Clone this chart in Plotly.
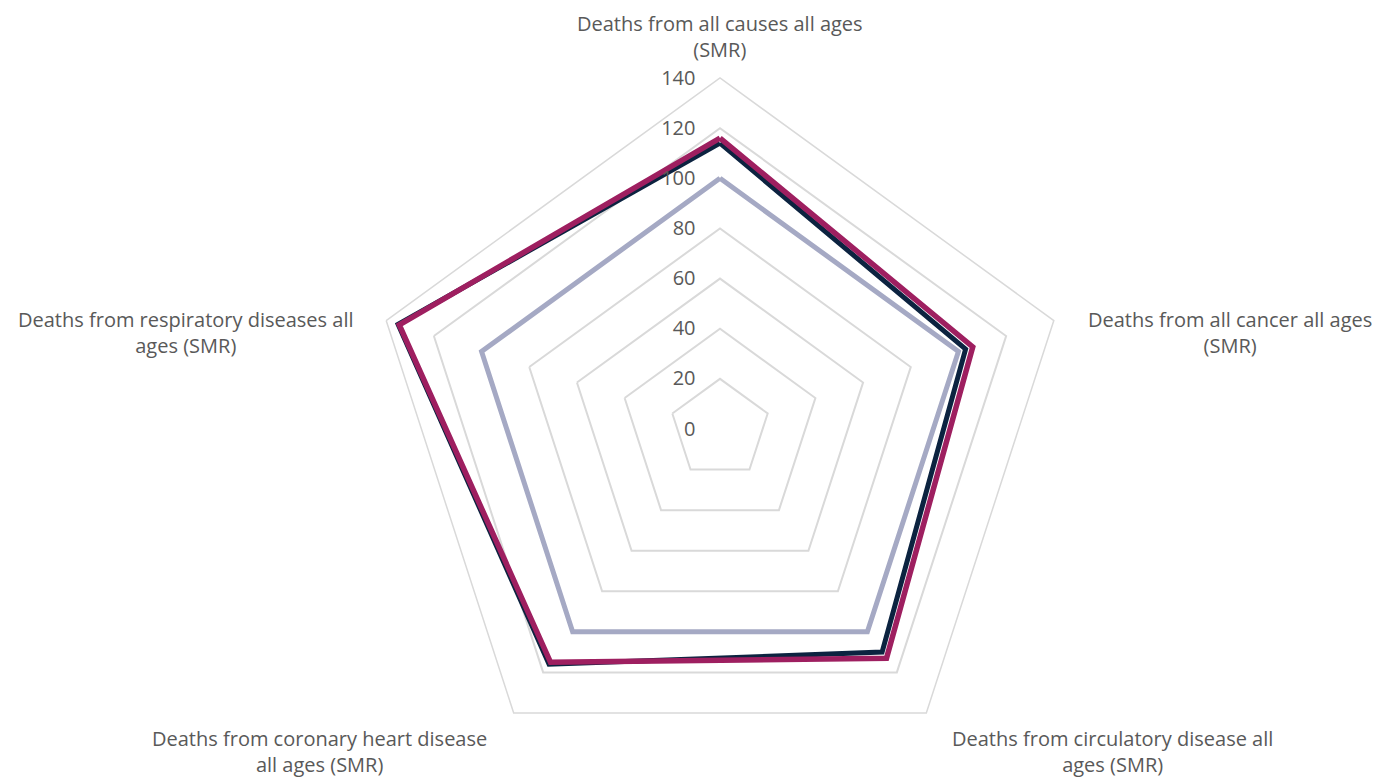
import plotly.graph_objects as go

categories = [
    "Deaths from all causes all ages (SMR)",
    "Deaths from all cancer all ages (SMR)",
    "Deaths from circulatory disease all ages (SMR)",
    "Deaths from coronary heart disease all ages (SMR)",
    "Deaths from respiratory diseases all ages (SMR)",
]
category_labels = [
    "Deaths from all causes all ages<br>(SMR)",
    "Deaths from all cancer all ages<br>(SMR)",
    "Deaths from circulatory disease all<br>ages (SMR)",
    "Deaths from coronary heart disease<br>all ages (SMR)",
    "Deaths from respiratory diseases all<br>ages (SMR)",
]
england = [100, 100, 100, 100, 100]
area_a = [114, 103, 110, 116, 135]
area_b = [116, 106, 113, 115, 134.5]
radial_ticks = [0, 20, 40, 60, 80, 100, 120, 140]

W, H = 1381, 780
FONT = "Open Sans"
TXT = "#595959"
GRID = "#d9d9d9"

fig = go.Figure()
series = [
    ("England", england, "#A5A9C4", 5),
    ("Area", area_a, "#0C2340", 5),
    ("Local", area_b, "#9E1F60", 5.5),
]
for name, vals, col, w in series:
    fig.add_trace(go.Scatterpolar(
        r=vals + vals[:1], theta=categories + categories[:1],
        mode="lines", name=name, line=dict(color=col, width=w),
        showlegend=False, hoverinfo="skip"))

# polar geometry (layout)
R, cx, cy = 351, 720, 429
fig.update_layout(
    width=W, height=H, margin=dict(l=0, r=0, t=0, b=0),
    paper_bgcolor="white", plot_bgcolor="white",
    font=dict(family=FONT, size=20, color=TXT),
    polar=dict(
        domain=dict(x=[(cx - R) / W, (cx + R) / W], y=[(H - cy - R) / H, (H - cy + R) / H]),
        bgcolor="white",
        gridshape="linear",
        radialaxis=dict(range=[0, 140], tickvals=radial_ticks, showline=False,
                        ticks="outside", ticklen=17, tickcolor="rgba(0,0,0,0)",
                        gridcolor=GRID, gridwidth=1.5, angle=90, tickangle=90,
                        side="counterclockwise",
                        tickfont=dict(family=FONT, size=20, color=TXT)),
        angularaxis=dict(categoryarray=categories, categoryorder="array",
                         rotation=90, direction="clockwise", showgrid=False,
                         showline=True, linecolor=GRID, linewidth=1.5,
                         ticks="", showticklabels=False),
    ),
)

label_pos = [(720, 36), (1230, 332), (1112, 751), (319, 751), (186, 332)]
for txt, (x, y) in zip(category_labels, label_pos):
    fig.add_annotation(text=txt, x=x / W, y=1 - y / H, xref="paper", yref="paper",
                       xanchor="center", yanchor="middle", align="center", showarrow=False,
                       font=dict(family=FONT, size=20, color=TXT))

fig.write_html("out.html")
